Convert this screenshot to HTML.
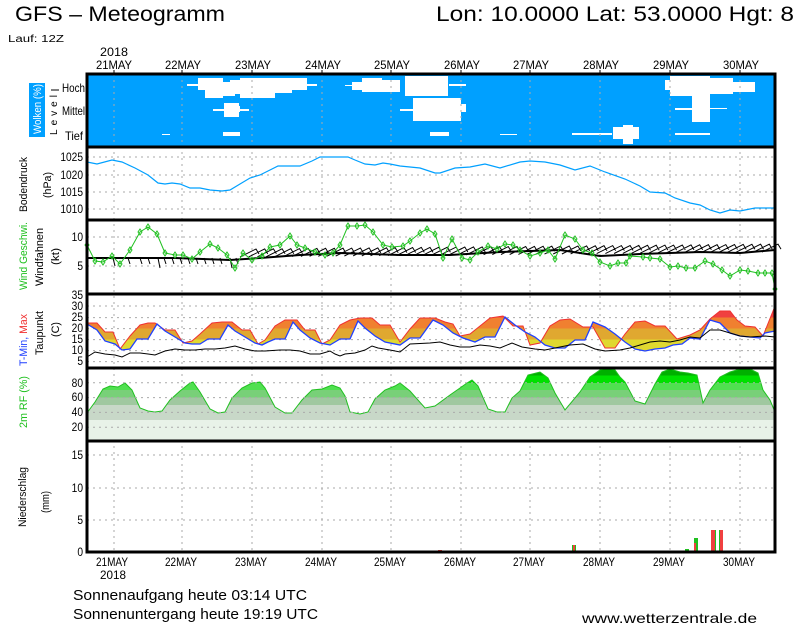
<!DOCTYPE html>
<html><head><meta charset="utf-8"><style>
html,body{margin:0;padding:0;background:#fff;}
svg{display:block;font-family:"Liberation Sans",sans-serif;}
</style></head><body>
<svg id="s" width="800" height="625" viewBox="0 0 800 625" xmlns="http://www.w3.org/2000/svg">
<defs>
<linearGradient id="tg" gradientUnits="userSpaceOnUse" x1="0" y1="306" x2="0" y2="351">
<stop offset="0" stop-color="#f04040"/><stop offset="0.258" stop-color="#f04040"/>
<stop offset="0.258" stop-color="#f08030"/><stop offset="0.502" stop-color="#f08030"/>
<stop offset="0.502" stop-color="#e0a830"/><stop offset="0.747" stop-color="#e0a830"/>
<stop offset="0.747" stop-color="#e0d830"/><stop offset="1" stop-color="#e0d830"/>
</linearGradient>
<linearGradient id="rg" gradientUnits="userSpaceOnUse" x1="0" y1="368" x2="0" y2="442">
<stop offset="0" stop-color="#00b000"/><stop offset="0.1" stop-color="#00b000"/>
<stop offset="0.1" stop-color="#00e000"/><stop offset="0.2" stop-color="#00e000"/>
<stop offset="0.2" stop-color="#50e050"/><stop offset="0.3" stop-color="#50e050"/>
<stop offset="0.3" stop-color="#78d078"/><stop offset="0.4" stop-color="#78d078"/>
<stop offset="0.4" stop-color="#a0c8a0"/><stop offset="0.5" stop-color="#a0c8a0"/>
<stop offset="0.5" stop-color="#c8d8c8"/><stop offset="0.7" stop-color="#c8d8c8"/>
<stop offset="0.7" stop-color="#e8f2e8"/><stop offset="1" stop-color="#e8f2e8"/>
</linearGradient>
</defs>

<text x="15" y="21" font-size="21" textLength="210" lengthAdjust="spacingAndGlyphs">GFS – Meteogramm</text>
<text x="436" y="21" font-size="21" textLength="358" lengthAdjust="spacingAndGlyphs">Lon: 10.0000 Lat: 53.0000 Hgt: 8</text>
<text x="8" y="42" font-size="10" textLength="56" lengthAdjust="spacingAndGlyphs">Lauf: 12Z</text>

<g font-size="12">
<text x="100" y="56" textLength="28" lengthAdjust="spacingAndGlyphs">2018</text>
<text x="96" y="69" textLength="36" lengthAdjust="spacingAndGlyphs">21MAY</text><text x="165" y="69" textLength="36" lengthAdjust="spacingAndGlyphs">22MAY</text><text x="235" y="69" textLength="36" lengthAdjust="spacingAndGlyphs">23MAY</text>
<text x="305" y="69" textLength="36" lengthAdjust="spacingAndGlyphs">24MAY</text><text x="374" y="69" textLength="36" lengthAdjust="spacingAndGlyphs">25MAY</text><text x="444" y="69" textLength="36" lengthAdjust="spacingAndGlyphs">26MAY</text>
<text x="513" y="69" textLength="36" lengthAdjust="spacingAndGlyphs">27MAY</text><text x="583" y="69" textLength="36" lengthAdjust="spacingAndGlyphs">28MAY</text><text x="653" y="69" textLength="36" lengthAdjust="spacingAndGlyphs">29MAY</text>
<text x="723" y="69" textLength="36" lengthAdjust="spacingAndGlyphs">30MAY</text>
</g>

<rect x="87" y="74" width="688" height="73" fill="#00a0ff"/>
<g fill="#fff">
<rect x="187" y="84" width="12" height="2"/><rect x="198" y="78" width="25" height="12"/><rect x="205" y="78" width="18" height="20"/>
<rect x="223" y="82" width="12" height="14"/><rect x="230" y="80" width="45" height="14"/><rect x="240" y="78" width="35" height="20"/>
<rect x="275" y="78" width="17" height="15"/><rect x="292" y="78" width="15" height="12"/><rect x="307" y="84" width="10" height="2"/>
<rect x="224" y="103" width="15" height="14"/><rect x="213" y="109" width="36" height="2"/><rect x="230" y="106" width="10" height="6"/>
<rect x="162" y="134" width="8" height="1"/><rect x="223" y="132" width="17" height="4"/>
<rect x="345" y="85" width="12" height="1"/><rect x="352" y="82" width="15" height="8"/><rect x="362" y="78" width="20" height="14"/><rect x="378" y="80" width="22" height="12"/>
<rect x="405" y="76" width="43" height="20"/><rect x="449" y="84" width="17" height="2"/>
<rect x="413" y="98" width="48" height="23"/><rect x="400" y="109" width="13" height="2"/><rect x="460" y="104" width="6" height="8"/>
<rect x="430" y="132" width="19" height="4"/><rect x="500" y="134" width="17" height="1"/>
<rect x="572" y="133" width="40" height="2"/><rect x="613" y="127" width="26" height="12"/><rect x="623" y="125" width="10" height="19"/>
<rect x="665" y="80" width="25" height="10"/><rect x="670" y="76" width="40" height="20"/><rect x="690" y="80" width="20" height="15"/><rect x="705" y="78" width="28" height="16"/><rect x="730" y="82" width="25" height="10"/>
<rect x="692" y="96" width="18" height="26"/><rect x="675" y="108" width="35" height="2"/><rect x="710" y="108" width="17" height="1"/>
<rect x="675" y="133" width="35" height="2"/>
</g>
<rect x="29" y="83" width="16" height="54" fill="#00a0ff"/>
<text transform="translate(41,134) rotate(-90)" font-size="11" fill="#fff" textLength="50" lengthAdjust="spacingAndGlyphs">Wolken (%)</text>
<text transform="translate(57,135) rotate(-90)" font-size="10" textLength="40" lengthAdjust="spacing">Level</text>
<text x="62" y="92" font-size="12" textLength="23" lengthAdjust="spacingAndGlyphs">Hoch</text><text x="62" y="115" font-size="12" textLength="23" lengthAdjust="spacingAndGlyphs">Mittel</text><text x="65" y="140" font-size="12" textLength="18" lengthAdjust="spacingAndGlyphs">Tief</text>
<line x1="51" y1="90" x2="59" y2="90" stroke="#000"/>

<g stroke="#aaa" stroke-dasharray="2,4" stroke-width="1">
<line x1="87" x2="775" y1="157" y2="157"/><line x1="87" x2="775" y1="175" y2="175"/><line x1="87" x2="775" y1="192" y2="192"/><line x1="87" x2="775" y1="209" y2="209"/>
<line x1="87" x2="775" y1="237" y2="237"/><line x1="87" x2="775" y1="266" y2="266"/>
<line x1="87" x2="775" y1="306" y2="306"/><line x1="87" x2="775" y1="317.6" y2="317.6"/><line x1="87" x2="775" y1="328.6" y2="328.6"/><line x1="87" x2="775" y1="339.6" y2="339.6"/><line x1="87" x2="775" y1="350.6" y2="350.6"/><line x1="87" x2="775" y1="361.6" y2="361.6"/>
<line x1="87" x2="775" y1="455" y2="455"/><line x1="87" x2="775" y1="488" y2="488"/><line x1="87" x2="775" y1="520" y2="520"/>
<line x1="114" x2="114" y1="74" y2="552"/><line x1="182" x2="182" y1="74" y2="552"/><line x1="252" x2="252" y1="74" y2="552"/><line x1="322" x2="322" y1="74" y2="552"/><line x1="391" x2="391" y1="74" y2="552"/><line x1="461" x2="461" y1="74" y2="552"/><line x1="530" x2="530" y1="74" y2="552"/><line x1="600" x2="600" y1="74" y2="552"/><line x1="670" x2="670" y1="74" y2="552"/><line x1="740" x2="740" y1="74" y2="552"/>
</g>

<polyline fill="none" stroke="#00a0ff" stroke-width="1.2" points="87,162 97,164 112,160 122,162 135,168 148,175 158,183 165,184 172,183 180,184 190,188 200,188 210,190 222,191 230,190 240,184 250,178 260,175 268,171 278,166 290,166 300,166 312,161 320,157 348,157 355,160 365,164 375,165 383,163 390,164 400,166 420,168 435,173 440,173 455,168 470,167 485,164 500,168 520,162 530,161 545,162 560,165 575,170 590,166 605,172 625,179 640,186 650,192 665,193 675,198 690,203 700,205 710,210 720,213 730,210 740,211 755,208 775,208"/>
<g font-size="12" text-anchor="end" transform="translate(83,0) scale(0.85,1) translate(-83,0)">
<text x="83" y="161">1025</text><text x="83" y="179">1020</text><text x="83" y="196">1015</text><text x="83" y="213">1010</text>
<text x="83" y="241">10</text><text x="83" y="270">5</text>
<text x="83" y="299">35</text><text x="83" y="310">30</text><text x="83" y="321">25</text><text x="83" y="332">20</text><text x="83" y="343">15</text><text x="83" y="354">10</text><text x="83" y="365">5</text>
<text x="83" y="387">80</text><text x="83" y="401">60</text><text x="83" y="416">40</text><text x="83" y="431">20</text>
<text x="83" y="459">15</text><text x="83" y="492">10</text><text x="83" y="524">5</text><text x="83" y="556">0</text>
</g>
<text transform="translate(27,212) rotate(-90)" font-size="11" textLength="55" lengthAdjust="spacingAndGlyphs">Bodendruck</text>
<text transform="translate(51,198) rotate(-90)" font-size="11" textLength="26" lengthAdjust="spacingAndGlyphs">(hPa)</text>

<polyline fill="none" stroke="#000" stroke-width="2" points="87,258 130,258 175,258 230,260 260,258 300,255 340,253 400,255 450,255 500,252 560,250 600,256 640,254 700,252 740,253 775,250"/>
<g id="barbs" stroke="#000" stroke-width="1" fill="none"></g>
<polyline id="wg" fill="none" stroke="#20c020" stroke-width="1" points="87,245 95,261 103,262 112,256 120,264 130,250 140,232 148,227 157,234 165,253 175,255 183,255 192,259 200,252 210,244 218,248 227,255 235,268 243,253 252,260 262,256 270,247 280,245 290,236 297,245 305,248 315,252 325,255 333,253 340,245 348,226 357,226 365,225 373,232 383,245 392,247 403,246 410,241 420,233 427,229 435,234 443,258 452,239 462,258 470,260 478,252 488,246 497,249 505,244 513,245 520,250 530,256 540,253 548,250 555,259 565,235 575,239 583,250 592,253 600,262 610,266 618,263 626,263 630,256 643,257 650,258 660,259 670,267 678,266 686,268 695,268 705,261 713,264 722,270 730,276 740,270 748,271 758,273 765,273 772,273 775,289"/>
<g id="dm" fill="none" stroke="#20c020"></g>
<text transform="translate(27,290) rotate(-90)" font-size="11" fill="#20c020" textLength="68" lengthAdjust="spacingAndGlyphs">Wind Geschwi.</text>
<text transform="translate(43,286) rotate(-90)" font-size="11" textLength="58" lengthAdjust="spacingAndGlyphs">Windfahnen</text>
<text transform="translate(59,265) rotate(-90)" font-size="11" textLength="17" lengthAdjust="spacingAndGlyphs">(kt)</text>

<polygon fill="url(#tg)" points="87,323 97,323 105,332 113,332 120,349 130,336 140,325 148,323 155,323 165,330 175,330 183,343 192,341 200,334 212,323 222,322 232,322 242,330 250,330 258,344 265,340 275,326 285,320 297,320 305,330 315,330 322,344 330,340 340,325 350,320 360,318 372,318 380,325 390,325 400,342 410,329 420,318 435,318 445,322 453,324 460,336 470,334 480,326 490,318 503,316 513,326 523,326 530,345 540,343 550,326 560,320 570,319 583,327 593,327 605,348 615,348 625,334 635,322 645,321 655,326 665,326 677,339 690,335 700,330 710,319 720,311 730,311 737,320 745,326 755,327 763,336 775,306 775,331 765,333 760,338 750,337 740,336 730,333 720,323 710,320 700,339 690,338 682,344 673,345 665,348 655,349 645,351 635,349 625,342 615,334 605,327 593,322 585,340 575,340 565,348 555,348 545,345 535,337 525,332 515,325 505,317 495,337 485,337 475,342 463,338 453,333 443,325 433,320 420,338 410,338 400,345 385,342 375,336 365,328 358,321 350,339 340,339 330,345 320,343 310,338 300,330 293,322 285,339 275,339 268,342 262,345 255,343 245,337 235,331 228,325 220,339 208,339 200,344 192,344 185,343 175,337 165,331 157,324 148,339 137,339 130,349 122,350 115,344 105,341 97,330 87,324"/>
<polyline fill="none" stroke="#f03030" stroke-width="1" points="87,323 97,323 105,332 113,332 120,349 130,336 140,325 148,323 155,323 165,330 175,330 183,343 192,341 200,334 212,323 222,322 232,322 242,330 250,330 258,344 265,340 275,326 285,320 297,320 305,330 315,330 322,344 330,340 340,325 350,320 360,318 372,318 380,325 390,325 400,342 410,329 420,318 435,318 445,322 453,324 460,336 470,334 480,326 490,318 503,316 513,326 523,326 530,345 540,343 550,326 560,320 570,319 583,327 593,327 605,348 615,348 625,334 635,322 645,321 655,326 665,326 677,339 690,335 700,330 710,319 720,311 730,311 737,320 745,326 755,327 763,336 775,306"/>
<polyline fill="none" stroke="#2040ff" stroke-width="1.3" points="87,324 97,330 105,341 115,344 122,350 130,349 137,339 148,339 157,324 165,331 175,337 185,343 192,344 200,344 208,339 220,339 228,325 235,331 245,337 255,343 262,345 268,342 275,339 285,339 293,322 300,330 310,338 320,343 330,345 340,339 350,339 358,321 365,328 375,336 385,342 400,345 410,338 420,338 433,320 443,325 453,333 463,338 475,342 485,337 495,337 505,317 515,325 525,332 535,337 545,345 555,348 565,348 575,340 585,340 593,322 605,327 615,334 625,342 635,349 645,351 655,349 665,348 673,345 682,344 690,338 700,339 710,320 720,323 730,333 740,336 750,337 760,338 765,333 775,331"/>
<polyline fill="none" stroke="#000" stroke-width="1" points="87,357 95,352 105,354 115,355 122,357 130,353 140,353 148,354 155,355 165,351 175,349 185,350 195,350 205,349 215,349 225,348 235,346 245,349 255,351 265,351 280,350 290,350 300,351 310,354 320,354 330,351 335,354 340,356 345,354 355,353 365,350 372,346 378,348 390,350 400,352 410,344 430,343 440,342 450,345 460,347 470,347 480,345 490,346 500,348 512,343 522,347 535,349 545,350 555,348 570,345 583,344 595,349 605,351 620,350 630,348 640,345 650,342 660,341 670,342 680,340 690,337 700,338 710,330 720,330 730,333 740,336 750,337 765,336 775,337"/>
<text transform="translate(27,366) rotate(-90)" font-size="11" textLength="52" lengthAdjust="spacingAndGlyphs"><tspan fill="#2040ff">T-Min, </tspan><tspan fill="#f03030">Max</tspan></text>
<text transform="translate(43,355) rotate(-90)" font-size="11" textLength="44" lengthAdjust="spacingAndGlyphs">Taupunkt</text>
<text transform="translate(59,337) rotate(-90)" font-size="11" textLength="15" lengthAdjust="spacingAndGlyphs">(C)</text>

<polygon fill="url(#rg)" stroke="#20c020" stroke-width="1" points="87,441 87,413 95,402 103,389 110,386 118,387 125,383 132,390 140,408 148,411 155,412 162,411 170,400 180,391 190,383 193,382 200,392 210,409 218,413 225,412 232,398 242,388 252,383 260,382 265,388 275,407 285,413 292,413 302,400 312,390 322,389 332,385 340,388 345,396 350,412 360,414 368,412 375,399 385,390 395,386 400,383 410,391 425,408 435,406 450,395 460,388 467,383 472,380 478,386 488,409 497,412 505,412 512,398 520,391 528,375 540,372 548,378 555,393 565,410 580,392 590,377 600,370 607,368 615,370 620,377 625,382 635,401 645,404 655,384 662,372 670,369 680,372 688,373 697,375 703,403 710,390 720,377 730,372 740,369 750,369 758,373 763,390 770,400 775,412 775,441"/>
<g stroke="#aaa" stroke-dasharray="2,4"><line x1="87" x2="775" y1="382.8" y2="382.8"/><line x1="87" x2="775" y1="397.6" y2="397.6"/><line x1="87" x2="775" y1="412.4" y2="412.4"/><line x1="87" x2="775" y1="427.2" y2="427.2"/></g>
<text transform="translate(27,428) rotate(-90)" font-size="11" fill="#20c020" textLength="52" lengthAdjust="spacingAndGlyphs">2m RF (%)</text>

<text transform="translate(26,527) rotate(-90)" font-size="11" textLength="60" lengthAdjust="spacingAndGlyphs">Niederschlag</text>
<text transform="translate(49,513) rotate(-90)" font-size="11" textLength="22" lengthAdjust="spacingAndGlyphs">(mm)</text>
<rect x="438" y="550" width="4" height="2" fill="#f04040"/>
<rect x="572" y="545" width="4" height="7" fill="#20c020"/><rect x="573" y="545" width="2" height="7" fill="#f04040"/>
<rect x="685" y="549" width="4" height="3" fill="#20c020"/>
<rect x="694" y="538" width="4" height="14" fill="#20c020"/><rect x="694" y="543" width="2" height="9" fill="#f04040"/>
<rect x="711" y="530" width="4" height="22" fill="#f04040"/><rect x="715" y="530" width="1" height="22" fill="#20c020"/>
<rect x="719" y="530" width="4" height="22" fill="#f04040"/><rect x="719" y="530" width="1" height="22" fill="#20c020"/>

<g fill="none" stroke="#000" stroke-width="3">
<rect x="87" y="74" width="688" height="478"/>
<line x1="87" x2="775" y1="147" y2="147"/><line x1="87" x2="775" y1="220" y2="220"/><line x1="87" x2="775" y1="294" y2="294"/><line x1="87" x2="775" y1="368" y2="368"/><line x1="87" x2="775" y1="441" y2="441"/>
</g>
<g stroke="#000" stroke-width="1">
<line x1="114" x2="114" y1="70" y2="74"/><line x1="182" x2="182" y1="70" y2="74"/><line x1="252" x2="252" y1="70" y2="74"/><line x1="322" x2="322" y1="70" y2="74"/><line x1="391" x2="391" y1="70" y2="74"/><line x1="461" x2="461" y1="70" y2="74"/><line x1="530" x2="530" y1="70" y2="74"/><line x1="600" x2="600" y1="70" y2="74"/><line x1="670" x2="670" y1="70" y2="74"/><line x1="740" x2="740" y1="70" y2="74"/>
</g>

<g font-size="12">
<text x="96" y="566" textLength="32" lengthAdjust="spacingAndGlyphs">21MAY</text><text x="165" y="566" textLength="32" lengthAdjust="spacingAndGlyphs">22MAY</text><text x="235" y="566" textLength="32" lengthAdjust="spacingAndGlyphs">23MAY</text>
<text x="305" y="566" textLength="32" lengthAdjust="spacingAndGlyphs">24MAY</text><text x="374" y="566" textLength="32" lengthAdjust="spacingAndGlyphs">25MAY</text><text x="444" y="566" textLength="32" lengthAdjust="spacingAndGlyphs">26MAY</text>
<text x="513" y="566" textLength="32" lengthAdjust="spacingAndGlyphs">27MAY</text><text x="583" y="566" textLength="32" lengthAdjust="spacingAndGlyphs">28MAY</text><text x="653" y="566" textLength="32" lengthAdjust="spacingAndGlyphs">29MAY</text>
<text x="723" y="566" textLength="32" lengthAdjust="spacingAndGlyphs">30MAY</text>
<text x="100" y="579" textLength="26" lengthAdjust="spacingAndGlyphs">2018</text>
</g>
<text x="73" y="600" font-size="15" textLength="234" lengthAdjust="spacingAndGlyphs">Sonnenaufgang heute 03:14 UTC</text>
<text x="73" y="619" font-size="15" textLength="245" lengthAdjust="spacingAndGlyphs">Sonnenuntergang heute 19:19 UTC</text>
<text x="582" y="623" font-size="14" textLength="175" lengthAdjust="spacingAndGlyphs">www.wetterzentrale.de</text>
</svg>
<script>
(function(){
var ns="http://www.w3.org/2000/svg";
var b=document.getElementById("barbs"),d="";
var hx=[113,128,140,148,158,164,172,180,188,196,204,212,220,230,236];
hx.forEach(function(x){d+="M"+x+" 258 l2 "+(6+(x%4)*2)+" ";});
for(var x=240;x<770;x+=8.7){var y=257-((x-240)/530)*5;d+="M"+x.toFixed(1)+" "+y.toFixed(1)+" l16 -8 l3 5 ";}
var p=document.createElementNS(ns,"path");p.setAttribute("d",d);b.appendChild(p);
var pts=document.getElementById("wg").getAttribute("points").trim().split(/\s+/);
var g=document.getElementById("dm");
pts.forEach(function(s){var a=s.split(",");var q=document.createElementNS(ns,"path");
q.setAttribute("d","M"+a[0]+" "+(a[1]-3)+" l2 3 l-2 3 l-2 -3 z");g.appendChild(q);});
})();
</script>
</body></html>
